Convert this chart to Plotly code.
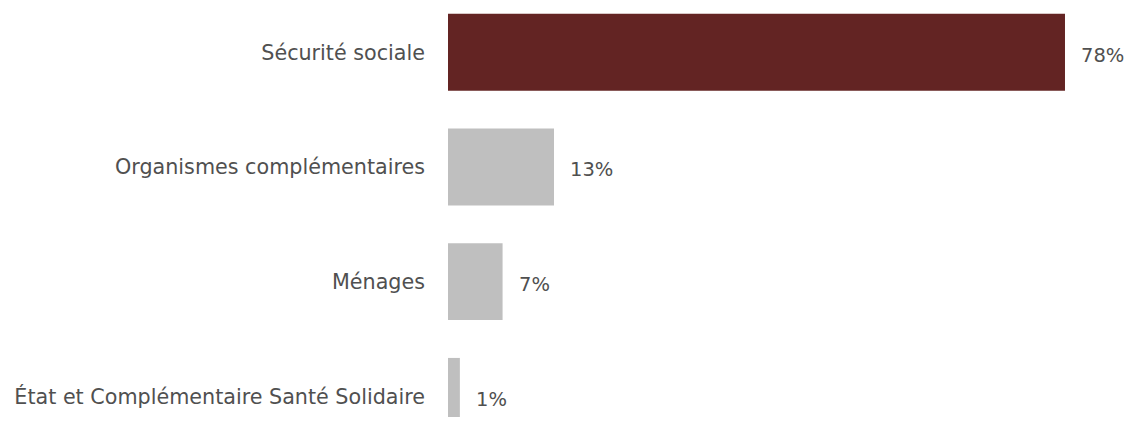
import plotly.graph_objects as go

categories = ["Sécurité sociale", "Organismes complémentaires", "Ménages",
              "État et Complémentaire Santé Solidaire"]
values = [78.0, 13.4, 6.9, 1.5]
labels = ["78%", "13%", "7%", "1%"]
colors = ["#632423", "#BFBFBF", "#BFBFBF", "#BFBFBF"]

FONT = "DejaVu Sans"
TXT = "#505050"
FS = 20.7

fig = go.Figure()
fig.add_trace(go.Bar(
    x=values, y=categories, orientation="h",
    marker=dict(color=colors, line=dict(width=0)),
    width=0.67, hoverinfo="skip",
))

for c, v, t in zip(categories, values, labels):
    fig.add_annotation(x=v, y=c, text=t, showarrow=False, xanchor="left",
                       xshift=14, yshift=-3,
                       font=dict(family=FONT, size=19.5, color=TXT))

# page body has an 8px default margin, so the figure is sized to fit inside it
fig.update_layout(
    width=1116, height=409,
    margin=dict(l=440, r=0, t=0, b=0),
    paper_bgcolor="white", plot_bgcolor="white",
    showlegend=False,
    xaxis=dict(range=[0, 85.46], visible=False, fixedrange=True),
    yaxis=dict(
        categoryorder="array", categoryarray=categories,
        range=[3.18, -0.386], showgrid=False, zeroline=False,
        showline=False, ticks="", ticklabelstandoff=22,
        tickfont=dict(family=FONT, size=FS, color=TXT),
    ),
)

fig.write_html("out.html")
